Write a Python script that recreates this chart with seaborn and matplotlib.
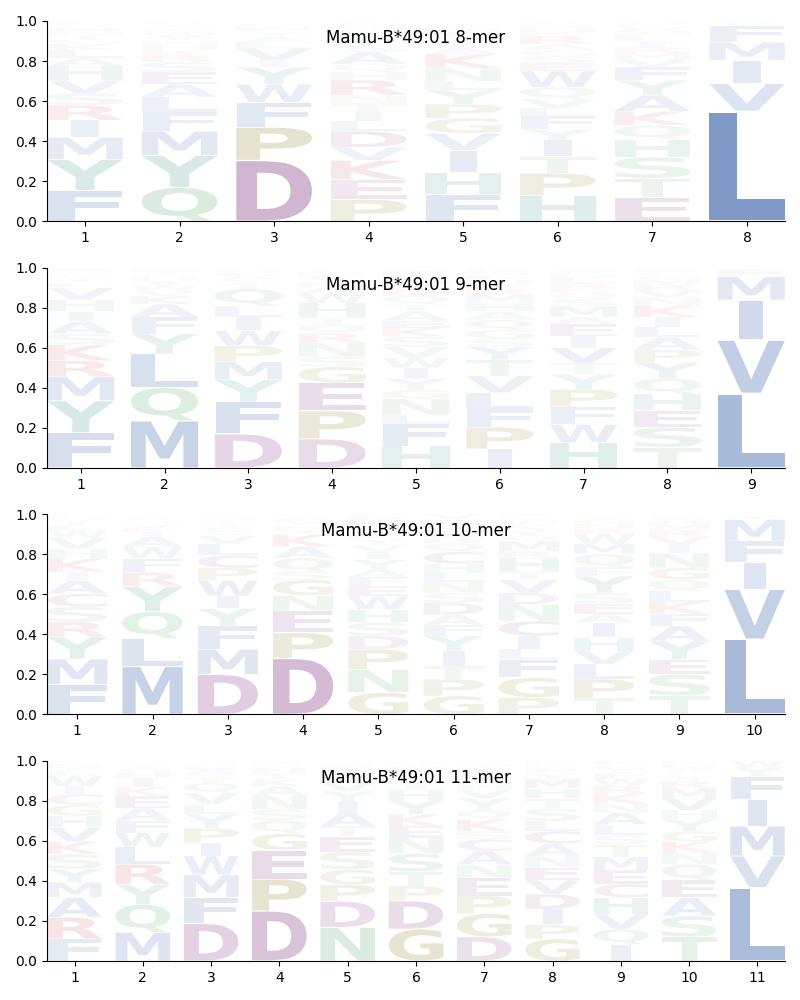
import matplotlib
matplotlib.use("Agg")
import numpy as np
import pandas as pd
import seaborn as sns
import matplotlib.pyplot as plt
from matplotlib.textpath import TextPath
from matplotlib.patches import PathPatch
from matplotlib.font_manager import FontProperties
from matplotlib.transforms import Affine2D

ALLELE = "Mamu-B*49:01"
LENGTHS = [8, 9, 10, 11]

# ---- data: letters bottom-to-top and their heights, per position ----
MER8_LETTERS = [
    "FYMIRSVHALKGTNEPWCD",
    "QYMFLAESRKHNTWGVIPDC",
    "DPFWYIVLATSEMHQN",
    "PEKVDLITNRHQASYFMGWC",
    "FHIVGPYLNKASTMERWQD",
    "HPTIYFLVQWESGARKNMDC",
    "ETSHQKAYFVMRILNGWPDC",
    "LVIMFYA",
]
MER8_HEIGHTS = [
    [.155, .155, .11, .085, .075, .06, .065, .07, .04, .04, .03, .025, .02, .02, .015, .01, .01, .01, .005],
    [.17, .16, .12, .095, .075, .065, .06, .05, .035, .025, .025, .02, .02, .02, .015, .015, .012, .008, .005, .005],
    [.305, .165, .125, .09, .085, .035, .06, .03, .025, .02, .015, .015, .01, .01, .005, .005],
    [.11, .10, .095, .065, .08, .05, .045, .045, .04, .075, .04, .04, .06, .035, .03, .025, .02, .02, .015, .01],
    [.135, .11, .11, .085, .075, .07, .07, .045, .065, .07, .03, .025, .025, .02, .02, .015, .015, .01, .005],
    [.13, .11, .085, .08, .055, .065, .04, .045, .06, .08, .04, .035, .03, .03, .04, .02, .02, .015, .01, .01],
    [.12, .095, .105, .09, .07, .07, .08, .075, .065, .04, .03, .03, .025, .025, .02, .02, .015, .01, .01, .005],
    [.55, .138, .116, .09, .08, .015, .011],
]

MER9_LETTERS = [
    "FYMRKSAIHVLTGNQEW",
    "MQLYFAKVWIHSTRE",
    "DFYMPWILQTSAEHVG",
    "DPEGSNRQTHWAKYFMLIV",
    "HFLNGYIWVSKEATQDRMPC",
    "IPFLVTYSGQAHMRKNEWDC",
    "HWFPYTVIEAMSQKRLNGDC",
    "TSEHQYPALIKNVRMGFWDC",
    "LVIMFY",
]
MER9_HEIGHTS = [
    [.175, .16, .12, .08, .08, .055, .06, .05, .06, .06, .025, .02, .015, .015, .01, .01, .005],
    [.235, .167, .167, .1, .083, .065, .04, .03, .025, .02, .02, .015, .015, .012, .006],
    [.17, .16, .11, .09, .08, .075, .067, .058, .084, .025, .02, .02, .015, .01, .01, .006],
    [.145, .14, .14, .08, .05, .07, .047, .043, .037, .07, .05, .03, .025, .02, .015, .015, .01, .008, .005],
    [.11, .11, .045, .08, .045, .055, .055, .05, .055, .05, .045, .035, .045, .035, .045, .03, .03, .03, .03, .02],
    [.095, .108, .09, .083, .083, .08, .066, .04, .045, .05, .04, .045, .04, .025, .025, .025, .02, .015, .015, .01],
    [.127, .09, .088, .087, .075, .058, .075, .058, .06, .035, .055, .035, .03, .025, .025, .025, .02, .015, .012, .005],
    [.103, .1, .083, .083, .078, .08, .063, .062, .05, .05, .058, .04, .035, .03, .025, .02, .015, .01, .01, .005],
    [.372, .266, .2, .117, .033, .012],
]

MER10_LETTERS = [
    "FMYRSCAIKHVWLTNGE",
    "MLQYRFWAIKVHSTE",
    "DMFYIWPCLVQASTHEG",
    "DPENGSQAKTHYRVFL",
    "GNPDSHWEFAYIVTKQLMRC",
    "GPTIYFADSNLHCQREKMWV",
    "PGFLICNDVTHRMQYKWSEA",
    "TPLVHIAESYFQMWRNGKDC",
    "TSEYAFKLQGNIVRMHWPDC",
    "LVIFMYW",
]
MER10_HEIGHTS = [
    [.15, .127, .11, .075, .075, .066, .066, .042, .066, .05, .055, .035, .025, .02, .015, .013, .01],
    [.24, .14, .133, .124, .072, .069, .058, .05, .025, .02, .02, .015, .015, .015, .004],
    [.2, .126, .116, .087, .062, .078, .062, .063, .058, .04, .025, .02, .02, .015, .012, .01, .006],
    [.28, .128, .108, .078, .078, .042, .066, .058, .06, .025, .02, .02, .015, .01, .007, .005],
    [.11, .115, .1, .067, .066, .066, .066, .05, .045, .038, .05, .04, .03, .03, .025, .025, .02, .02, .02, .017],
    [.093, .083, .066, .075, .075, .056, .05, .059, .05, .055, .045, .045, .06, .043, .03, .03, .025, .02, .015, .025],
    [.085, .099, .091, .05, .067, .074, .083, .058, .066, .042, .066, .033, .05, .03, .025, .025, .02, .015, .012, .009],
    [.082, .094, .075, .066, .066, .075, .045, .05, .054, .083, .045, .066, .05, .05, .025, .025, .02, .015, .01, .004],
    [.093, .107, .075, .091, .075, .062, .059, .053, .058, .059, .074, .04, .04, .035, .025, .02, .015, .01, .006, .003],
    [.375, .25, .132, .108, .108, .02, .007],
]

MER11_LETTERS = [
    "FRAMYSKVHGCIWLTNQE",
    "MQYRLWFAEKIHSTVGN",
    "DFMWIPYLVQTSAEHNG",
    "DPEGQSNAKTHYRV",
    "NDPGSETAIYVKLQFHRM",
    "GDPTSNEKYHILQFMVWA",
    "DGPENACSKQYVHIFLTMRW",
    "GPIDVENACLSTHMYFQKRW",
    "IQVHCEMTSLANKRWFYGDP",
    "TSAEQNKGYHVMRILFPWDC",
    "LVMIFYW",
]
MER11_HEIGHTS = [
    [.11, .108, .1, .075, .066, .075, .062, .07, .058, .055, .053, .04, .05, .025, .02, .015, .01, .008],
    [.143, .14, .1, .1, .087, .07, .06, .063, .06, .045, .045, .025, .02, .015, .012, .008, .007],
    [.187, .13, .113, .094, .066, .072, .07, .049, .058, .05, .025, .02, .02, .015, .012, .01, .009],
    [.25, .159, .144, .083, .067, .054, .07, .045, .035, .03, .025, .02, .015, .003],
    [.168, .13, .083, .075, .088, .078, .05, .067, .058, .05, .046, .025, .02, .02, .015, .01, .01, .007],
    [.159, .141, .075, .071, .09, .079, .058, .059, .066, .055, .03, .03, .025, .02, .015, .012, .008, .007],
    [.121, .116, .088, .091, .066, .067, .058, .04, .06, .045, .06, .045, .03, .03, .025, .02, .015, .01, .008, .005],
    [.11, .071, .078, .075, .069, .063, .058, .062, .062, .05, .063, .05, .05, .05, .025, .02, .015, .015, .009, .005],
    [.082, .077, .075, .083, .066, .07, .067, .062, .045, .054, .059, .045, .05, .04, .035, .03, .025, .01, .005, .02],
    [.12, .105, .092, .086, .079, .059, .054, .053, .059, .045, .06, .05, .035, .02, .015, .01, .008, .02, .015, .015],
    [.366, .158, .149, .133, .116, .045, .033],
]

MOTIF_LETTERS = [MER8_LETTERS, MER9_LETTERS, MER10_LETTERS, MER11_LETTERS]
MOTIF_HEIGHTS = [MER8_HEIGHTS, MER9_HEIGHTS, MER10_HEIGHTS, MER11_HEIGHTS]

# ---- colour scheme ----
GROUP_COLORS = {
    "hydrophobic": "#4C72B0",
    "acidic": "#8C478C",
    "polar": "#64B06E",
    "special": "#8C8528",
    "aromatic": "#45998F",
    "basic": "#CC4040",
}
GROUP_MEMBERS = {
    "hydrophobic": "AFILMVW",
    "acidic": "DEC",
    "polar": "NQST",
    "special": "GP",
    "aromatic": "HY",
    "basic": "KR",
}
LETTER_COLOR = {c: GROUP_COLORS[g] for g, s in GROUP_MEMBERS.items() for c in s}
ALPHA_SCALE = 1.3

# ---- long-form table ----
rows = []
for L, lets, hts in zip(LENGTHS, MOTIF_LETTERS, MOTIF_HEIGHTS):
    for pos, (s, h) in enumerate(zip(lets, hts), start=1):
        floor = 0.0
        for ch, hh in zip(s, h):
            rows.append(dict(length=L, position=pos, letter=ch, height=hh, floor=floor))
            floor += hh
df = pd.DataFrame(rows)

sns.set_style("ticks", {"axes.edgecolor": "black", "xtick.color": "black",
                        "ytick.color": "black", "text.color": "black"})
plt.rcParams["font.family"] = ["DejaVu Sans"]

FP = FontProperties(family="DejaVu Sans", weight="bold")
MSC = TextPath((0, 0), "L", size=1, prop=FP).get_extents()


def draw_glyph(ax, ch, x, floor, h, color, alpha, width=0.8, vpad=0.03):
    path = TextPath((0, 0), ch, size=1, prop=FP)
    bb = path.get_extents()
    y0 = floor + vpad * h / 2.0
    hh = h * (1 - vpad)
    hs = min(width / bb.width, width / MSC.width)
    shift = (width - hs * bb.width) / 2.0
    vs = hh / bb.height
    tr = (Affine2D().translate(-bb.xmin, -bb.ymin).scale(hs, vs)
          .translate(x - width / 2.0 + shift, y0))
    ax.add_patch(PathPatch(tr.transform_path(path), facecolor=color,
                           edgecolor="none", alpha=alpha, zorder=2))


fig, axes = plt.subplots(len(LENGTHS), 1, figsize=(8, 10), dpi=100)
fig.subplots_adjust(left=0.059, right=0.981, top=0.979, bottom=0.039, hspace=0.23)

for ax, L in zip(axes, LENGTHS):
    sub = df[df["length"] == L]
    for r in sub.itertuples():
        draw_glyph(ax, r.letter, r.position, r.floor, r.height,
                   LETTER_COLOR[r.letter], min(1.0, ALPHA_SCALE * r.height))
    ax.set_xlim(0.6, L + 0.4)
    ax.set_ylim(0, 1)
    ax.set_xticks(range(1, L + 1))
    ax.set_yticks(np.arange(0, 1.01, 0.2))
    ax.text(0.5, 0.89, f"{ALLELE} {L}-mer", transform=ax.transAxes,
            ha="center", va="baseline", fontsize=12, zorder=5)
    sns.despine(ax=ax)

fig.savefig("out.png", dpi=100)
